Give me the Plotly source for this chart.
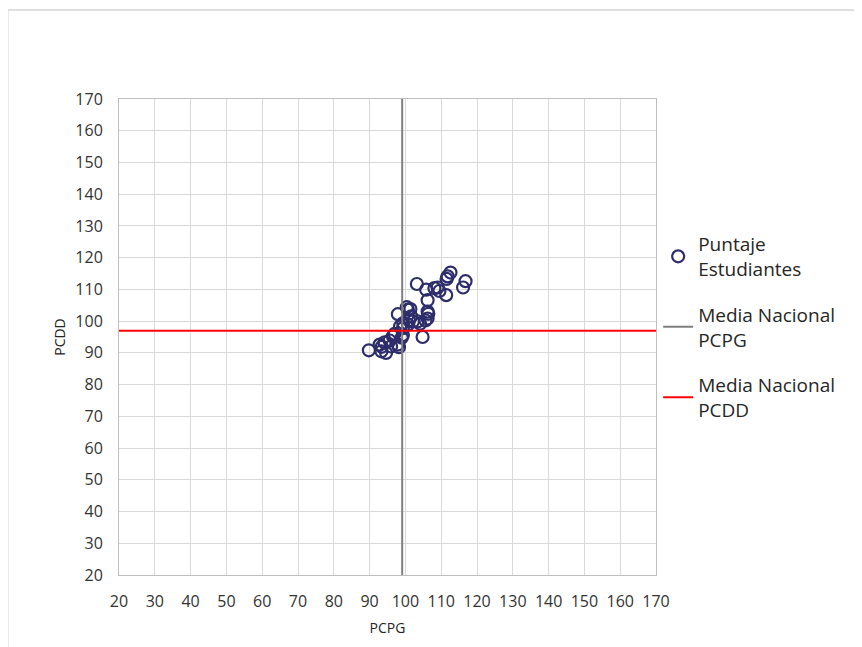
import plotly.graph_objects as go

pcpg = [89.8, 93.3, 94.6, 93.4, 92.8, 94.2, 95.6, 96.0, 97.9, 98.2, 96.5, 99.3, 99.0, 97.0,
        99.3, 100.7, 98.5, 99.4, 102.1, 103.4, 104.1, 101.6, 101.0, 97.9, 100.7, 100.4, 101.4,
        104.8, 105.6, 106.2, 106.2, 106.4, 106.2, 103.2, 105.8, 108.1, 109.0, 109.5, 111.4,
        111.5, 111.8, 112.6, 116.8, 116.1]
pcdd = [90.8, 90.5, 90.0, 91.9, 92.6, 93.3, 93.9, 92.0, 92.6, 91.8, 95.2, 95.6, 94.8, 96.0,
        97.8, 98.9, 98.3, 99.4, 99.9, 99.9, 99.2, 101.5, 100.3, 102.2, 103.6, 104.4, 103.8,
        95.0, 100.2, 100.8, 103.0, 102.3, 106.6, 111.7, 109.9, 110.4, 110.6, 109.5, 108.2,
        113.3, 114.1, 115.3, 112.6, 110.6]
media_pcpg = 99.1
media_pcdd = 97.0
axis_min, axis_max = 20, 170
tick_vals = list(range(20, 171, 10))

font_family = "Open Sans, sans-serif"

fig = go.Figure()
fig.add_trace(go.Scatter(
    x=pcpg, y=pcdd, mode="markers", name="Puntaje<br>Estudiantes", legendgroup="g1",
    marker=dict(symbol="circle-open", size=12, color="#2e2d6b", line=dict(width=2.2, color="#2e2d6b")),
))
fig.add_trace(go.Scatter(
    x=[media_pcpg, media_pcpg], y=[axis_min, axis_max], mode="lines", legendgroup="g2",
    name="Media Nacional<br>PCPG", line=dict(color="#7f7f7f", width=2),
))
fig.add_trace(go.Scatter(
    x=[axis_min, axis_max], y=[media_pcdd, media_pcdd], mode="lines", legendgroup="g3",
    name="Media Nacional<br>PCDD", line=dict(color="#ff0000", width=2),
))

axis_common = dict(
    range=[axis_min, axis_max], tickvals=tick_vals, showgrid=True, gridcolor="#d9d9d9",
    gridwidth=1, zeroline=False, showline=True, linecolor="#bfbfbf", linewidth=1, mirror=True,
    ticks="", tickfont=dict(size=16, color="#333333", family=font_family),
)
fig.update_xaxes(**axis_common, ticklabelstandoff=12,
                 title=dict(text="PCPG", font=dict(size=14, color="#262626", family=font_family), standoff=11))
fig.update_yaxes(**axis_common, ticklabelstandoff=12,
                 title=dict(text="PCDD", font=dict(size=14, color="#262626", family=font_family), standoff=6))

fig.update_layout(
    width=862, height=647,
    margin=dict(l=111, r=214, t=91, b=80),
    plot_bgcolor="white", paper_bgcolor="white",
    font=dict(family=font_family, color="#262626"),
    legend=dict(x=1.004, y=0.735, xanchor="left", yanchor="top",
                font=dict(size=19, color="#262626", family=font_family),
                tracegroupgap=18, itemwidth=30, bgcolor="rgba(0,0,0,0)"),
    showlegend=True,
    shapes=[
        dict(type="line", xref="paper", yref="paper", x0=-0.207, x1=1.5, y0=1.187, y1=1.187,
             line=dict(color="#bfbfbf", width=1)),
        dict(type="line", xref="paper", yref="paper", x0=-0.207, x1=-0.207, y0=-0.2, y1=1.187,
             line=dict(color="#bfbfbf", width=1)),
    ],
)

fig.write_html("out.html")
